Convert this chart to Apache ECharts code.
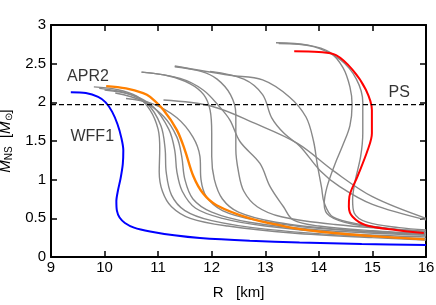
<!DOCTYPE html>
<html><head><meta charset="utf-8">
<script src="https://cdn.jsdelivr.net/npm/echarts@6/dist/echarts.min.js"></script>
<style>html,body{margin:0;padding:0;background:#fff}#c{width:436px;height:305px}</style>
</head><body><div id="c"></div>
<script>
// Data (R [km], M [Msun])
const xTicks = [9,10,11,12,13,14,15,16];
const yTicks = [0,0.5,1,1.5,2,2.5,3];
const psMass = 1.97;
const wff1 = [[9.37,2.13],[9.65,2.12],[9.88,2.07],[10.02,2.0],[10.14,1.88],[10.24,1.72],[10.31,1.55],[10.35,1.38],[10.34,1.2],[10.3,1.02],[10.25,0.86],[10.22,0.72],[10.23,0.6],[10.28,0.51],[10.38,0.44],[10.55,0.38],[10.85,0.33],[11.3,0.28],[11.78,0.245],[12.71,0.21],[13.64,0.187],[14.8,0.168],[16,0.155]];
const apr2 = [[10.03,2.21],[10.4,2.18],[10.72,2.12],[10.85,2.07],[11.1,1.9],[11.35,1.64],[11.5,1.38],[11.66,1.04],[11.84,0.82],[12.09,0.67],[12.71,0.5],[13.34,0.4],[13.65,0.36],[14.0,0.33],[15,0.27],[15.97,0.23]];
const ps = [[13.54,2.66],[14.0,2.65],[14.32,2.61],[14.63,2.42],[14.88,2.16],[14.99,1.9],[14.99,1.6],[14.91,1.38],[14.72,1.04],[14.57,0.78],[14.56,0.65],[14.63,0.52],[14.88,0.41],[15.44,0.35],[15.96,0.31]];
const g1 = [[9.8,2.2],[10.2,2.17],[10.6,2.08],[10.85,1.9],[11.0,1.65],[11.03,1.4],[11.02,1.1],[11.08,0.85],[11.25,0.65],[11.6,0.5],[12.3,0.4],[13.5,0.31],[15,0.25],[16,0.22]];
const g2 = [[9.9,2.18],[10.4,2.12],[10.8,1.98],[11.05,1.7],[11.13,1.4],[11.15,1.1],[11.25,0.8],[11.5,0.6],[12.0,0.47],[13,0.36],[14.5,0.28],[16,0.24]];
const g3 = [[10.0,2.16],[10.5,2.1],[10.9,1.95],[11.2,1.65],[11.31,1.38],[11.35,1.1],[11.45,0.85],[11.7,0.63],[12.2,0.5],[13,0.4],[14.5,0.3],[16,0.26]];
const g4 = [[10.2,2.12],[10.7,2.02],[11.1,1.82],[11.35,1.55],[11.44,1.3],[11.5,1.0],[11.65,0.75],[12.0,0.58],[12.7,0.45],[14,0.35],[16,0.28]];
const g5 = [[10.4,2.05],[10.9,1.98],[11.35,1.8],[11.65,1.55],[11.78,1.3],[11.8,1.0],[11.9,0.78],[12.2,0.6],[12.8,0.48],[14,0.37],[16,0.29]];
const g6 = [[10.69,2.39],[11.2,2.34],[11.6,2.24],[11.85,2.1],[11.97,1.9],[12.0,1.6],[12.0,1.3],[12.05,1.0],[12.2,0.75],[12.5,0.58],[13.2,0.45],[14.5,0.35],[16,0.3]];
const g7 = [[10.69,2.39],[11.41,2.31],[11.84,2.16],[12.15,1.94],[12.34,1.77],[12.53,1.49],[12.9,1.21],[13.09,0.91],[13.34,0.65],[13.52,0.48],[14,0.4],[15,0.34],[16,0.3]];
const g8 = [[11.31,2.46],[11.8,2.4],[12.1,2.3],[12.35,2.1],[12.45,1.85],[12.45,1.4],[12.5,1.1],[12.6,0.85],[12.85,0.65],[13.3,0.52],[14.3,0.42],[16,0.33]];
const g9 = [[11.31,2.47],[12.34,2.35],[12.95,2.29],[13.45,2.07],[13.76,1.81],[13.9,1.5],[13.97,1.2],[14.05,0.9],[14.1,0.7],[14.26,0.52],[14.8,0.42],[15.5,0.35],[16,0.31]];
const g10 = [[11.1,2.03],[12.0,1.95],[12.8,1.73],[13.6,1.47],[14.3,1.1],[15,0.78],[16,0.5]];
const g11 = [[13.2,2.77],[13.8,2.74],[14.2,2.65],[14.45,2.45],[14.58,2.2],[14.62,1.97],[14.58,1.7],[14.45,1.45],[14.3,1.2],[14.15,0.9],[14.1,0.68],[14.2,0.53],[14.6,0.43],[15.3,0.37],[16,0.33]];
const g12 = [[13.25,2.76],[13.9,2.72],[14.4,2.55],[14.7,2.3],[14.82,2.0],[14.82,1.6],[14.78,1.3],[14.67,0.96],[14.63,0.74],[14.66,0.57],[14.9,0.45],[15.5,0.38],[16,0.35]];
const g13 = [[11.97,2.4],[12.6,2.3],[12.95,2.1],[13.12,1.8],[13.35,1.6],[13.65,1.43],[14.02,1.12],[14.39,0.91],[15,0.68],[16,0.48]];
const grayCurves = [g1,g2,g3,g4,g5,g6,g7,g8,g9,g10,g11,g12,g13];
const labelNames = ['APR2','WFF1','PS'];
const labelPos = [[9.69,2.33],[9.77,1.56],[15.5,2.12]];

const FONT = '"Liberation Sans", Arial, sans-serif';
const chart = echarts.init(document.getElementById('c'), null, {renderer:'canvas'});
const series = [];
grayCurves.forEach(c => series.push({type:'line', data:c, showSymbol:false, smooth:0.35, lineStyle:{color:'#888888', width:1.4}, z:2, silent:true}));
series.push({type:'line', data:apr2, showSymbol:false, smooth:0.35, lineStyle:{color:'#ff8000', width:2.4}, z:3});
series.push({type:'line', data:wff1, showSymbol:false, smooth:0.3, lineStyle:{color:'#0000ff', width:2}, z:3});
series.push({type:'line', data:ps, showSymbol:false, smooth:0.35, lineStyle:{color:'#ff0000', width:2}, z:3});
series.push({type:'line', data:[[xTicks[0],psMass],[xTicks[xTicks.length-1],psMass]], showSymbol:false, lineStyle:{color:'#000', width:1.3, type:[5,3]}, z:4});
series.push({type:'scatter', data:labelPos.map((p,i)=>({value:p, name:labelNames[i]})), symbolSize:0,
  label:{show:true, position:'inside', formatter:p=>p.name, color:'#000', fontSize:16, fontFamily:FONT}, z:5});

chart.setOption({
  animation:false,
  grid:{left:51, right:10, top:25, bottom:48, outerBoundsMode:'none', containLabel:false},
  xAxis:[{type:'value', min:9, max:16, interval:1, position:'bottom',
      axisLine:{onZero:false, lineStyle:{color:'#000', width:2}},
      axisTick:{inside:true, length:6, lineStyle:{color:'#000', width:1.5}},
      axisLabel:{color:'#000', fontSize:15, fontFamily:FONT, margin:3},
      splitLine:{show:false},
      name:'R   [km]', nameLocation:'middle', nameGap:28, nameTextStyle:{color:'#000', fontSize:15, fontFamily:FONT}},
    {type:'value', min:9, max:16, interval:1, position:'top',
      axisLine:{onZero:false, lineStyle:{color:'#000', width:2}},
      axisTick:{inside:true, length:6, lineStyle:{color:'#000', width:1.5}},
      axisLabel:{show:false}, splitLine:{show:false}}],
  yAxis:[{type:'value', min:0, max:3, interval:0.5, position:'left',
      axisLine:{onZero:false, lineStyle:{color:'#000', width:2}},
      axisTick:{inside:true, length:6, lineStyle:{color:'#000', width:1.5}},
      axisLabel:{color:'#000', fontSize:15, fontFamily:FONT, margin:5},
      splitLine:{show:false},
      name:'{i|M}{s|NS}  [{i|M}{s|\u2299}]', nameLocation:'middle', nameGap:30, nameRotate:90,
      nameTextStyle:{color:'#000', fontSize:15, fontFamily:FONT,
        rich:{i:{fontStyle:'italic', fontSize:15, fontFamily:FONT, color:'#000'},
              s:{fontSize:10, fontFamily:FONT, color:'#000', padding:[6,0,0,0]}}}},
    {type:'value', min:0, max:3, interval:0.5, position:'right',
      axisLine:{onZero:false, lineStyle:{color:'#000', width:2}},
      axisTick:{inside:true, length:6, lineStyle:{color:'#000', width:1.5}},
      axisLabel:{show:false}, splitLine:{show:false}}],
  series:series
});
</script></body></html>
